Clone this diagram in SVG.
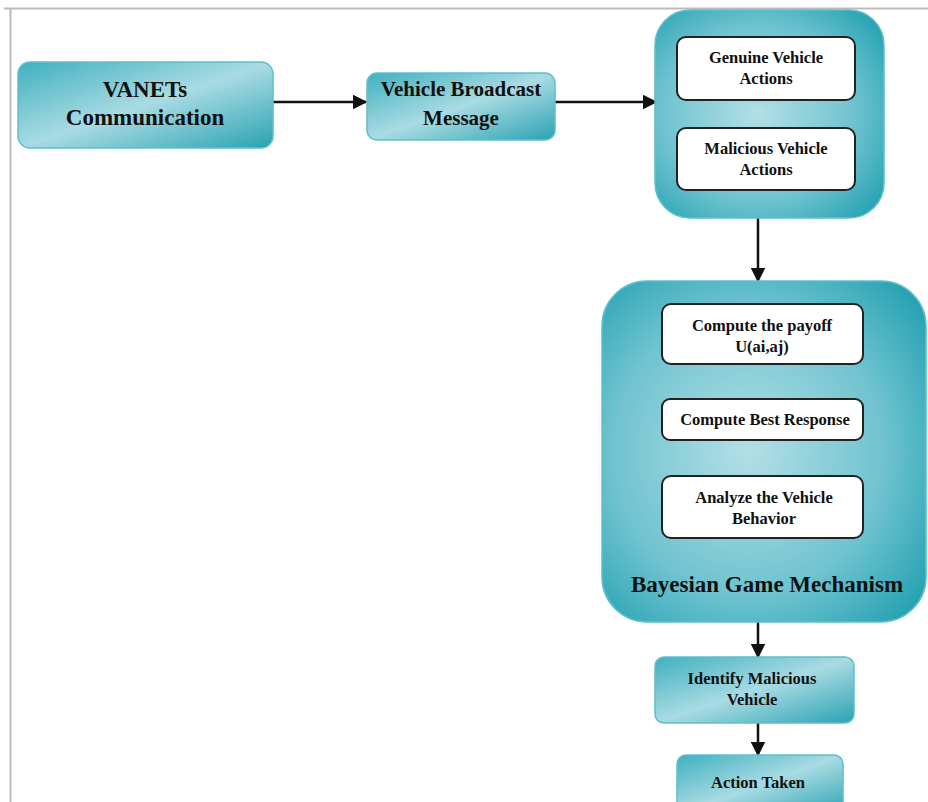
<svg xmlns="http://www.w3.org/2000/svg" width="928" height="802" viewBox="0 0 928 802">
<defs>
<linearGradient id="teal" x1="0" y1="0" x2="1" y2="1">
<stop offset="0" stop-color="#3fb0bf"/>
<stop offset="0.5" stop-color="#a9dbe3"/>
<stop offset="1" stop-color="#2aa2b2"/>
</linearGradient>
<radialGradient id="tealR" cx="0.45" cy="0.5" r="0.7">
<stop offset="0" stop-color="#b3dfe6"/>
<stop offset="0.6" stop-color="#6fc3cf"/>
<stop offset="1" stop-color="#22a0b1"/>
</radialGradient>
<marker id="ah" viewBox="0 0 10 10" refX="9" refY="5" markerWidth="6" markerHeight="6" orient="auto">
<path d="M0,0 L10,5 L0,10 z" fill="#111"/>
</marker>
<style>
.box{fill:url(#teal);stroke:#5fbfcc;stroke-width:1.5}
.big{fill:url(#tealR);stroke:#5fbfcc;stroke-width:1.5}
.inner{fill:#fff;stroke:#222;stroke-width:2}
text{font-family:"Liberation Serif","Times New Roman",serif;font-weight:bold;fill:#111;text-anchor:middle}
.t22{font-size:23px}
.t20{font-size:21px}
.t15{font-size:16.5px}
.conn{stroke:#111;stroke-width:2.5;fill:none;marker-end:url(#ah)}
</style>
</defs>
<rect x="0" y="0" width="928" height="802" fill="#fff"/>
<line x1="4" y1="8.5" x2="928" y2="8.5" stroke="#bbb" stroke-width="2"/>
<line x1="10.5" y1="8" x2="10.5" y2="802" stroke="#bbb" stroke-width="2"/>

<g id="connectors">
<line class="conn" x1="273" y1="102" x2="366" y2="102"/>
<line class="conn" x1="555" y1="102" x2="656" y2="102"/>
<line class="conn" x1="758" y1="218" x2="758" y2="281"/>
<line class="conn" x1="758" y1="622" x2="758" y2="657"/>
<line class="conn" x1="758" y1="723" x2="758" y2="755"/>
</g>

<g id="vanets">
<rect class="box" x="18" y="62" width="255" height="86" rx="12"/>
<text class="t22" x="145" y="97">VANETs</text>
<text class="t22" x="145" y="125">Communication</text>
</g>

<g id="broadcast">
<rect class="box" x="367" y="73" width="188" height="67" rx="10"/>
<text class="t20" x="461" y="96">Vehicle Broadcast</text>
<text class="t20" x="461" y="125">Message</text>
</g>

<g id="actions">
<rect class="big" x="655" y="10" width="229" height="208" rx="35"/>
<g id="genuine">
<rect class="inner" x="677" y="37" width="178" height="63" rx="9"/>
<text class="t15" x="766" y="63">Genuine Vehicle</text>
<text class="t15" x="766" y="84">Actions</text>
</g>
<g id="malicious">
<rect class="inner" x="677" y="128" width="178" height="62" rx="9"/>
<text class="t15" x="766" y="154">Malicious Vehicle</text>
<text class="t15" x="766" y="175">Actions</text>
</g>
</g>

<g id="bayesian">
<rect class="big" x="602" y="281" width="324" height="341" rx="45"/>
<g id="payoff">
<rect class="inner" x="662" y="304" width="201" height="60" rx="9"/>
<text class="t15" x="762" y="331">Compute the payoff</text>
<text class="t15" x="762" y="352">U(ai,aj)</text>
</g>
<g id="bestresp">
<rect class="inner" x="662" y="399" width="201" height="41" rx="8"/>
<text class="t15" x="765" y="425">Compute Best Response</text>
</g>
<g id="analyze">
<rect class="inner" x="662" y="476" width="201" height="62" rx="9"/>
<text class="t15" x="764" y="503">Analyze the Vehicle</text>
<text class="t15" x="764" y="524">Behavior</text>
</g>
<text class="t22" x="767" y="592">Bayesian Game Mechanism</text>
</g>

<g id="identify">
<rect class="box" x="655" y="657" width="199" height="66" rx="9"/>
<text class="t15" x="752" y="684">Identify Malicious</text>
<text class="t15" x="752" y="705">Vehicle</text>
</g>

<g id="action">
<rect class="box" x="677" y="755" width="166" height="60" rx="9"/>
<text class="t15" x="758" y="788">Action Taken</text>
</g>
</svg>
